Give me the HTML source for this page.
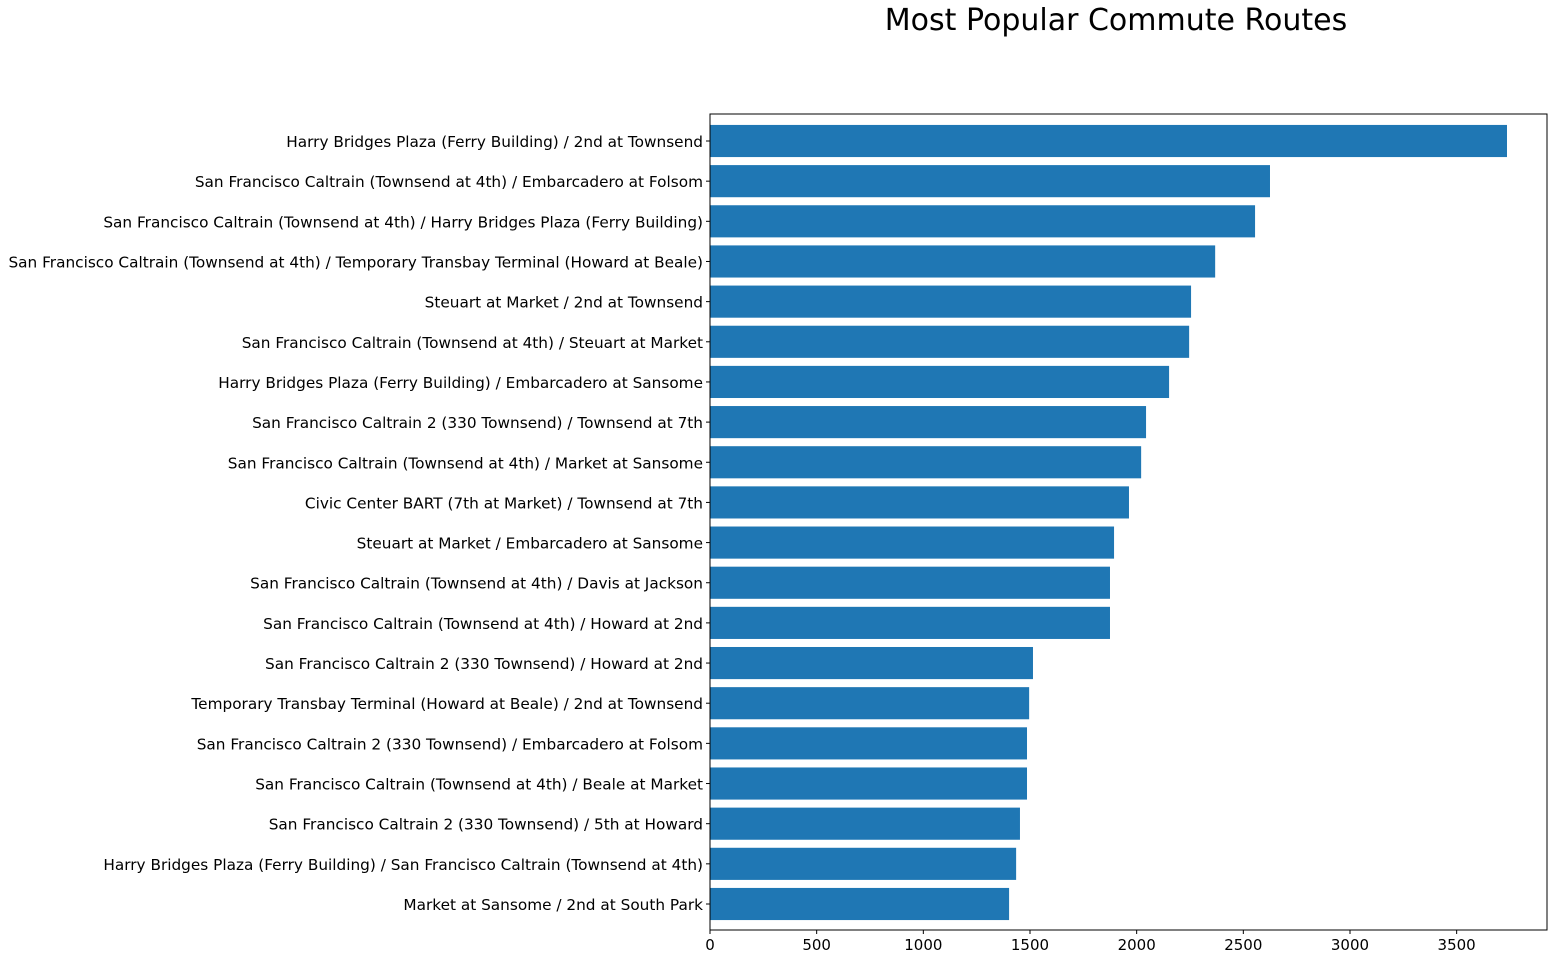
<!DOCTYPE html>
<html><head><meta charset="utf-8"><style>
body{margin:0;background:#fff;font-family:"Liberation Sans","DejaVu Sans",sans-serif;}
</style></head><body>
<svg id="chart" width="1557" height="959" xmlns="http://www.w3.org/2000/svg">
<text x="1116" y="30" font-size="30" text-anchor="middle" fill="#000" font-family="DejaVu Sans, Liberation Sans, sans-serif">Most Popular Commute Routes</text>
<g id="bars"></g>
<rect x="710" y="114" width="837" height="816" fill="none" stroke="#000" stroke-width="1"/>
<g id="xticks"></g>
</svg>
<script>
const categories=["Harry Bridges Plaza (Ferry Building) / 2nd at Townsend","San Francisco Caltrain (Townsend at 4th) / Embarcadero at Folsom","San Francisco Caltrain (Townsend at 4th) / Harry Bridges Plaza (Ferry Building)","San Francisco Caltrain (Townsend at 4th) / Temporary Transbay Terminal (Howard at Beale)","Steuart at Market / 2nd at Townsend","San Francisco Caltrain (Townsend at 4th) / Steuart at Market","Harry Bridges Plaza (Ferry Building) / Embarcadero at Sansome","San Francisco Caltrain 2 (330 Townsend) / Townsend at 7th","San Francisco Caltrain (Townsend at 4th) / Market at Sansome","Civic Center BART (7th at Market) / Townsend at 7th","Steuart at Market / Embarcadero at Sansome","San Francisco Caltrain (Townsend at 4th) / Davis at Jackson","San Francisco Caltrain (Townsend at 4th) / Howard at 2nd","San Francisco Caltrain 2 (330 Townsend) / Howard at 2nd","Temporary Transbay Terminal (Howard at Beale) / 2nd at Townsend","San Francisco Caltrain 2 (330 Townsend) / Embarcadero at Folsom","San Francisco Caltrain (Townsend at 4th) / Beale at Market","San Francisco Caltrain 2 (330 Townsend) / 5th at Howard","Harry Bridges Plaza (Ferry Building) / San Francisco Caltrain (Townsend at 4th)","Market at Sansome / 2nd at South Park"];
const counts=[3736,2625,2555,2368,2255,2246,2152,2044,2021,1964,1894,1875,1875,1514,1496,1486,1486,1453,1435,1402];
const xTicks=[0,500,1000,1500,2000,2500,3000,3500];
const NS="http://www.w3.org/2000/svg";
const x0=710, pxPer=0.21333;
const xScale=v=>x0+v*pxPer;
const step=(904-141)/19;
const yScale=i=>141+i*step;
const bh=step*0.8;
const bars=document.getElementById('bars');
categories.forEach((c,i)=>{
  const r=document.createElementNS(NS,'rect');
  r.setAttribute('x',xScale(0));r.setAttribute('y',yScale(i)-bh/2);
  r.setAttribute('width',xScale(counts[i])-xScale(0));r.setAttribute('height',bh);
  r.setAttribute('fill','#1f77b4');
  
  
  bars.appendChild(r);
  const t=document.createElementNS(NS,'text');
  t.setAttribute('x',703);t.setAttribute('y',yScale(i)+6);
  t.setAttribute('text-anchor','end');t.setAttribute('font-size','15.3');
  t.setAttribute('font-family','DejaVu Sans, Liberation Sans, sans-serif');
  t.textContent=c;
  
  
  bars.appendChild(t);
  const tk=document.createElementNS(NS,'line');
  tk.setAttribute('x1',706);tk.setAttribute('x2',710);tk.setAttribute('y1',yScale(i));tk.setAttribute('y2',yScale(i));tk.setAttribute('stroke','#000');
  
  
  bars.appendChild(tk);
});
const xt=document.getElementById('xticks');
xTicks.forEach(v=>{
  const l=document.createElementNS(NS,'line');
  l.setAttribute('x1',xScale(v));l.setAttribute('x2',xScale(v));l.setAttribute('y1',930);l.setAttribute('y2',934);l.setAttribute('stroke','#000');
  
  
  xt.appendChild(l);
  const t=document.createElementNS(NS,'text');
  t.setAttribute('x',xScale(v));t.setAttribute('y',950);t.setAttribute('text-anchor','middle');t.setAttribute('font-size','15');
  t.setAttribute('font-family','DejaVu Sans, Liberation Sans, sans-serif');
  t.textContent=v;
  
  
  xt.appendChild(t);
});
</script>
</body></html>
